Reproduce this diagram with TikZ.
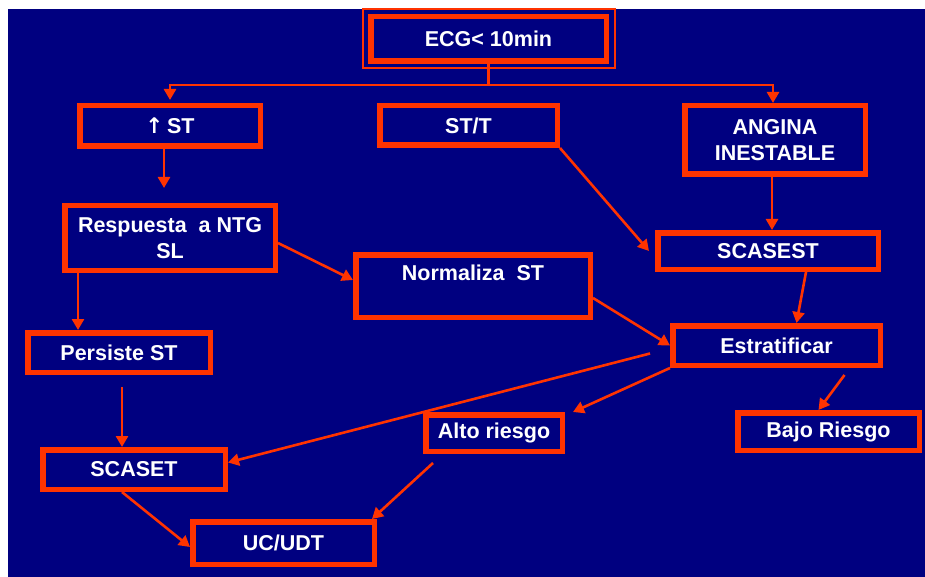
\documentclass[tikz,border=0pt]{standalone}
\usepackage{fontspec}
\setmainfont{Liberation Sans}
\newfontfamily\arrowfont{DejaVu Sans}
\usetikzlibrary{arrows.meta}
\definecolor{bgblue}{RGB}{0,0,128}
\definecolor{boxred}{RGB}{255,51,0}
\begin{document}
\begin{tikzpicture}[x=1pt,y=-1pt,
  box/.style={draw=boxred, line width=5.5pt, fill=bgblue, text=white,
    font=\fontsize{21.5}{26}\selectfont\bfseries, align=center,
    inner sep=0pt, outer sep=0.5\pgflinewidth},
  arr/.style={draw=boxred, line width=2.6pt, -{Triangle[length=11pt,width=12pt]}},
  plain/.style={draw=boxred, line width=2.6pt},
  frame/.style={draw=boxred, line width=1.4pt}]
\useasboundingbox (0,0) rectangle (925,577);
\fill[white] (0,0) rectangle (925,577);
\fill[bgblue] (8,9) rectangle (925,577);

\node[box, minimum width=235.5pt, minimum height=44.5pt] (ecg) at (488.5,39) {ECG< 10min};
\node[box, minimum width=180.5pt, minimum height=40.5pt] (st) at (170,126) {{\arrowfont\bfseries ↑}\,ST};
\node[box, minimum width=177.5pt, minimum height=39.5pt] (stt) at (468.5,125.5) {ST/T};
\node[box, minimum width=180.5pt, minimum height=68.5pt] (angina) at (775,140) {ANGINA\\INESTABLE};
\node[box, minimum width=210.5pt, minimum height=64.5pt] (resp) at (170,238) {Respuesta\ \ a NTG\\SL};
\node[box, minimum width=220.5pt, minimum height=36.5pt] (scasest) at (768,251) {SCASEST};
\node[box, minimum width=234.5pt, minimum height=62.5pt] (norm) at (473,286) {Normaliza\ \ ST\\\mbox{}};
\node[box, minimum width=207.5pt, minimum height=39.5pt] (estr) at (776.5,345.5) {Estratificar};
\node[box, minimum width=182.5pt, minimum height=39.5pt] (pers) at (119,352.5) {Persiste ST};
\node[box, minimum width=136.5pt, minimum height=36.5pt] (alto) at (494,433) {Alto riesgo};
\node[box, minimum width=181.5pt, minimum height=37.5pt] (bajo) at (828.5,431.5) {Bajo Riesgo};
\node[box, minimum width=182.5pt, minimum height=39.5pt] (scaset) at (134,469.5) {SCASET};
\node[box, minimum width=181.5pt, minimum height=42.5pt] (ucudt) at (283.5,543) {UC/UDT};

\draw[frame] ([shift={(-5pt,-4pt)}]ecg.south west) rectangle ([shift={(6pt,5pt)}]ecg.north east);

\coordinate (hub) at (488.5,85);
\draw[plain] (ecg.south) -- (hub);
\draw[arr] (hub) -| ([yshift=3pt]st.north);
\draw[arr] (hub) -| ([xshift=-2pt]angina.north);

\draw[arr, shorten >=15pt] ([xshift=-6pt]st.south) -- ([xshift=-6pt]resp.north);
\draw[arr] (stt.south east) -- ([xshift=-6pt]scasest.west);
\draw[arr] ([xshift=-3pt]angina.south) -- ([xshift=-3pt]angina.south |- scasest.north);
\draw[arr] ([yshift=-5pt]resp.east) -- ([yshift=6pt]norm.west);
\draw[arr] ([yshift=-12pt]norm.east) -- (estr.west);
\draw[arr] ([xshift=38pt]scasest.south) -- ([xshift=20pt]estr.north);
\draw[arr] ([xshift=68pt,yshift=-7pt]estr.south) -- ([xshift=-10pt]bajo.north);
\draw[arr] (estr.south west) -- ([xshift=8pt]alto.north east);
\draw[arr] ([xshift=-20pt,yshift=-8pt]estr.west) -- ([yshift=7pt]scaset.east);
\draw[arr] ([xshift=-61pt,yshift=-9pt]alto.south) -- ([xshift=-5pt]ucudt.north east);
\draw[arr] ([xshift=-92pt]resp.south) -- ([xshift=-41pt]pers.north);
\draw[arr] ([xshift=3pt,yshift=-12pt]pers.south) -- ([xshift=-12pt]scaset.north);
\draw[arr] ([xshift=-12pt]scaset.south) -- ([yshift=-4pt]ucudt.west);
\end{tikzpicture}
\end{document}
